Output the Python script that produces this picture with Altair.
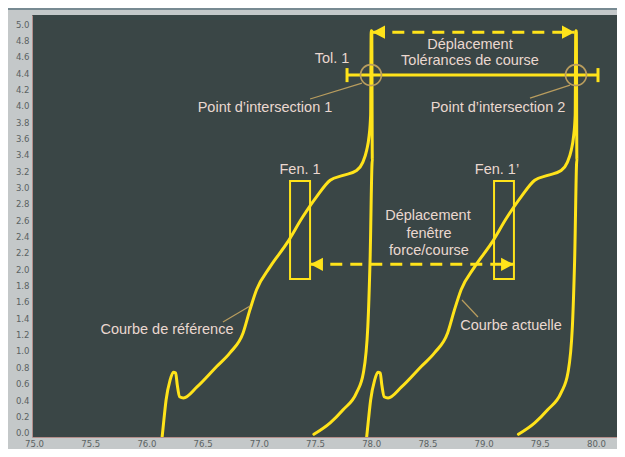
import altair as alt
import pandas as pd

# Courbe de référence (force / course)
ref_x = [76.14, 76.155, 76.175, 76.21, 76.24, 76.26, 76.275, 76.295, 76.33, 76.45,
         76.625, 76.745, 76.86, 76.92, 76.98, 77.10, 77.25, 77.39, 77.515, 77.635,
         77.75, 77.87, 77.925, 77.96, 77.98, 77.995, 78.0, 78.005, 78.01, 77.99,
         77.97, 77.93, 77.87, 77.75, 77.635, 77.49]
ref_y = [-0.05, 0.15, 0.40, 0.64, 0.74, 0.73, 0.58, 0.44, 0.425, 0.56,
         0.81, 0.98, 1.22, 1.50, 1.75, 2.03, 2.32, 2.64, 2.89, 3.09,
         3.15, 3.21, 3.31, 3.46, 3.62, 3.89, 4.92, 4.92, 3.34, 2.11,
         1.30, 0.73, 0.49, 0.28, 0.12, -0.02]

# Courbe actuelle
act_x = [77.96, 77.975, 77.995, 78.03, 78.06, 78.08, 78.095, 78.115, 78.15, 78.27,
         78.445, 78.565, 78.68, 78.74, 78.80, 78.92, 79.07, 79.21, 79.335, 79.455,
         79.57, 79.69, 79.745, 79.78, 79.80, 79.815, 79.82, 79.825, 79.83, 79.81,
         79.79, 79.75, 79.69, 79.57, 79.455, 79.31]
act_y = [-0.05, 0.15, 0.40, 0.64, 0.74, 0.73, 0.58, 0.44, 0.425, 0.56,
         0.81, 0.98, 1.22, 1.50, 1.75, 2.03, 2.32, 2.64, 2.89, 3.09,
         3.15, 3.21, 3.31, 3.46, 3.62, 3.89, 4.92, 4.92, 3.34, 2.11,
         1.30, 0.73, 0.49, 0.28, 0.12, -0.02]

x_ticks = [75.0, 75.5, 76.0, 76.5, 77.0, 77.5, 78.0, 78.5, 79.0, 79.5, 80.0]
y_ticks = [0.0, 0.2, 0.4, 0.6, 0.8, 1.0, 1.2, 1.4, 1.6, 1.8, 2.0, 2.2, 2.4,
           2.6, 2.8, 3.0, 3.2, 3.4, 3.6, 3.8, 4.0, 4.2, 4.4, 4.6, 4.8, 5.0]

# annotations
labels = ["Déplacement", "Tolérances de course", "Tol. 1",
          "Point d’intersection 1", "Point d’intersection 2",
          "Fen. 1", "Fen. 1’", "Déplacement", "fenêtre", "force/course",
          "Courbe de référence", "Courbe actuelle"]
label_x = [78.879, 78.879, 77.651, 77.055, 79.128, 77.367, 79.119,
           78.505, 78.514, 78.514, 76.183, 79.244]
label_y = [4.745, 4.549, 4.574, 3.974, 3.974, 3.215, 3.215,
           2.652, 2.438, 2.224, 1.257, 1.306]

tol_x = [77.785, 80.018]
tol_y = 4.378
cap_half = 0.086
inter_x = [77.998, 79.822]

win_x = [77.278, 79.093]
win_x2 = [77.456, 79.270]
win_y = [1.881, 1.881]
win_y2 = [3.081, 3.081]

arrows_x = [78.01, 77.458]
arrows_x2 = [79.81, 79.268]
arrows_y = [4.903, 2.061]

lead_x = [77.456, 79.413, 76.681, 78.950]
lead_y = [4.085, 4.097, 1.355, 1.416]
lead_x2 = [77.918, 79.769, 76.922, 78.808]
lead_y2 = [4.280, 4.255, 1.551, 1.624]

YELLOW = "#ffe31a"
TEXT = "#ead8d0"
TAN = "#b99d5e"
FONT = "Liberation Sans, Arial, sans-serif"
AXFONT = "Liberation Sans Narrow, DejaVu Sans Condensed, Roboto, sans-serif"

xs = alt.Scale(domain=[74.982, 80.187], nice=False, zero=False)
ys = alt.Scale(domain=[-0.053, 5.114], nice=False, zero=False)
x_axis = alt.Axis(values=x_ticks, format=".1f", title=None, grid=False, ticks=False,
                  labelFontSize=9.5, labelColor="#5b6262", labelFont=AXFONT,
                  labelPadding=1, domainColor="#b48e8a", domainWidth=1, labelFlush=False)
y_axis = alt.Axis(values=y_ticks, format=".1f", title=None, grid=False, ticks=False,
                  labelFontSize=9.5, labelColor="#5b6262", labelFont=AXFONT,
                  labelPadding=3, domainColor="#b48e8a", domainWidth=1, labelFlush=False)


def X(f):
    return alt.X(f, type="quantitative", scale=xs, axis=x_axis)


def Y(f):
    return alt.Y(f, type="quantitative", scale=ys, axis=y_axis)


curve_rows = []
for name, cx, cy in [("ref", ref_x, ref_y), ("act", act_x, act_y)]:
    for i, (a, b) in enumerate(zip(cx, cy)):
        curve_rows.append({"x": a, "y": b, "curve": name, "o": i})
curves_df = pd.DataFrame(curve_rows)

curves = alt.Chart(curves_df).mark_line(
    color=YELLOW, strokeWidth=3, clip=True, strokeJoin="round", strokeCap="round",
    interpolate="monotone"
).encode(x=X("x"), y=Y("y"), detail="curve:N", order="o:Q")

# tolerance line with end caps
tol_df = pd.DataFrame({"x": [tol_x[0]], "x2": [tol_x[1]], "y": [tol_y]})
tol = alt.Chart(tol_df).mark_rule(color=YELLOW, strokeWidth=3).encode(
    x=X("x"), x2="x2", y=Y("y"))
caps_df = pd.DataFrame({"x": tol_x, "y": [tol_y - cap_half] * 2, "y2": [tol_y + cap_half] * 2})
caps = alt.Chart(caps_df).mark_rule(color=YELLOW, strokeWidth=3).encode(
    x=X("x"), y=Y("y"), y2="y2")

circ_df = pd.DataFrame({"x": inter_x, "y": [tol_y] * 2})
circles = alt.Chart(circ_df).mark_point(
    shape="circle", size=441, filled=False, stroke=TAN, strokeWidth=1.6, opacity=1
).encode(x=X("x"), y=Y("y"))

# windows
win_df = pd.DataFrame({"x": win_x, "x2": win_x2, "y": win_y, "y2": win_y2})
wins = alt.Chart(win_df).mark_rect(fillOpacity=0, stroke=YELLOW, strokeWidth=2).encode(
    x=X("x"), x2="x2", y=Y("y"), y2="y2")

# dashed arrows
arr_df = pd.DataFrame({"x": arrows_x, "x2": arrows_x2, "y": arrows_y})
dashed = alt.Chart(arr_df).mark_rule(color=YELLOW, strokeWidth=3, strokeDash=[12, 8]).encode(
    x=X("x"), x2="x2", y=Y("y"))

head_r = pd.DataFrame({"x": arrows_x2, "y": arrows_y})
head_l = pd.DataFrame({"x": arrows_x, "y": arrows_y})
heads_r = alt.Chart(head_r).mark_point(
    shape="M0,0L-2,-1.05L-2,1.05Z", size=160, filled=True, color=YELLOW, opacity=1, strokeWidth=0
).encode(x=X("x"), y=Y("y"))
heads_l = alt.Chart(head_l).mark_point(
    shape="M0,0L2,-1.05L2,1.05Z", size=160, filled=True, color=YELLOW, opacity=1, strokeWidth=0
).encode(x=X("x"), y=Y("y"))

# leader lines
lead_df = pd.DataFrame({"x": lead_x, "y": lead_y, "x2": lead_x2, "y2": lead_y2})
leaders = alt.Chart(lead_df).mark_rule(color=TAN, strokeWidth=1.2).encode(
    x=X("x"), y=Y("y"), x2="x2", y2="y2")

text_df = pd.DataFrame({"x": label_x, "y": label_y, "t": labels})
texts = alt.Chart(text_df).mark_text(
    font=FONT, fontSize=14.5, color=TEXT, align="center", baseline="middle"
).encode(x=X("x"), y=Y("y"), text="t:N")

# decorative frame stripe at top of the grey panel
stripe = alt.Chart(pd.DataFrame({"a": [0]})).mark_rule(color="#778a92", strokeWidth=2).encode(
    x=alt.value(-24), x2=alt.value(590), y=alt.value(-6))

chart = alt.layer(
    stripe, curves, tol, caps, circles, wins, dashed, heads_r, heads_l, leaders, texts
).properties(
    width=585, height=422,
    autosize=alt.AutoSizeParams(type="none"),
    padding={"left": 24, "top": 7, "right": 0, "bottom": 12},
    background="#c4c8c9",
).configure_view(fill="#3a4646", stroke=None)

chart.save("out.html", embed_options={"renderer": "svg", "actions": False})
